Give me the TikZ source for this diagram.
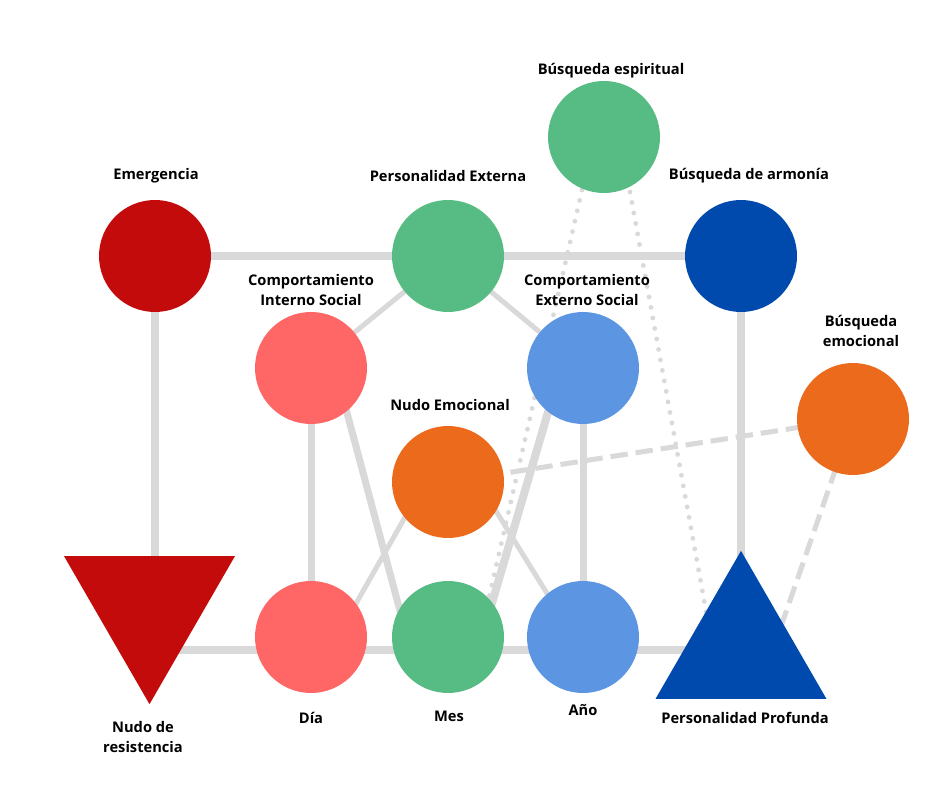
\documentclass[tikz,border=0pt]{standalone}
\usepackage{fontspec}
\setmainfont{Open Sans}
\usetikzlibrary{shapes.geometric,backgrounds}
\definecolor{lg}{HTML}{D9D9D9}
\definecolor{cred}{HTML}{C40B0B}
\definecolor{csal}{HTML}{FF6666}
\definecolor{cgreen}{HTML}{57BB84}
\definecolor{cblue}{HTML}{5C96E3}
\definecolor{cdblue}{HTML}{004AAD}
\definecolor{corange}{HTML}{EB6A1B}
\begin{document}
\begin{tikzpicture}[x=0.75pt,y=-0.75pt,
  circ/.style={circle,minimum size=84pt,inner sep=0pt,outer sep=0pt,draw=none},
  tri/.style={regular polygon,regular polygon sides=3,minimum size=148pt,inner sep=0pt,outer sep=0pt,draw=none},
  lbl/.style={font=\bfseries\fontsize{11}{15}\selectfont,align=center,text=black,inner sep=0pt},
  thick edge/.style={draw=lg,line width=6pt},
  mid edge/.style={draw=lg,line width=5.25pt},
  thin edge/.style={draw=lg,line width=3.75pt},
  dot edge/.style={draw=lg,line width=3.6pt,line cap=round,dash pattern=on 0pt off 8pt},
  dash edge/.style={draw=lg,line width=3.75pt,dash pattern=on 13pt off 6pt}]
\useasboundingbox (0,0) rectangle (940,788);
% nodes
\node[circ,fill=cred] (em) at (155,256) {};
\node[circ,fill=cgreen] (pe) at (448,256) {};
\node[circ,fill=cdblue] (ba) at (741,256) {};
\node[circ,fill=cgreen] (bs) at (604,137) {};
\node[circ,fill=csal] (cis) at (311,368) {};
\node[circ,fill=cblue] (ces) at (583,368) {};
\node[circ,fill=corange] (be) at (853,419) {};
\node[circ,fill=corange] (ne) at (448,482) {};
\node[circ,fill=csal] (dia) at (311,637) {};
\node[circ,fill=cgreen] (mes) at (448,637) {};
\node[circ,fill=cblue] (ano) at (583,637) {};
\node[tri,fill=cred,shape border rotate=180] (nr) at (149.5,605.5) {};
\node[tri,fill=cdblue] (pp) at (741,649.5) {};
% labels
\node[lbl] (l-em) at (156,176) {Emergencia};
\node[lbl] (l-pe) at (448,176) {Personalidad Externa};
\node[lbl] (l-ba) at (749,176) {Búsqueda de armonía};
\node[lbl] (l-bs) at (611,71) {Búsqueda espiritual};
\node[lbl] (l-cis) at (311,290) {Comportamiento\\Interno Social};
\node[lbl] (l-ces) at (587,290) {Comportamiento\\Externo Social};
\node[lbl] (l-be) at (861,331) {Búsqueda\\emocional};
\node[lbl] (l-ne) at (450,405) {Nudo Emocional};
\node[lbl] (l-nr) at (143,737) {Nudo de\\resistencia};
\node[lbl] (l-dia) at (311,718) {Día};
\node[lbl] (l-mes) at (449,716) {Mes};
\node[lbl] (l-ano) at (583,710) {Año};
\node[lbl] (l-pp) at (745,718) {Personalidad Profunda};
% connectors
\begin{scope}[on background layer]
\fill[white] (0,0) rectangle (940,788);
\draw[thick edge] (em.center) -- (ba.center);
\draw[thick edge] (em.center) -- (em.center |- nr.center);
\draw[thick edge] (nr.center |- pp.center) -- (pp.center);
\draw[thick edge] (ba.center) -- (pp.center);
\draw[mid edge] (cis.center) -- (dia.center);
\draw[mid edge] (ces.center) -- (ano.center);
\draw[thin edge] (pe.center) -- (cis.center);
\draw[thin edge] (pe.center) -- (ces.center);
\draw[mid edge] ([shift={(24,0)}]cis.center) -- ([shift={(-41,0)}]mes.center);
\draw[thick edge] ([shift={(-22,0)}]ces.center) -- ([shift={(34,0)}]mes.center);
\draw[thin edge] ([shift={(-23,0)}]ne.center) -- ([shift={(26,0)}]dia.center);
\draw[thin edge] ([shift={(30,0)}]ne.center) -- ([shift={(-9,0)}]ano.center);
\draw[dot edge] ([shift={(-22,53)}]bs.center) -- ([shift={(32,0)}]mes.center);
\draw[dot edge] ([shift={(26,55)}]bs.center) -- ([shift={(-28,0)}]pp.center);
\draw[dash edge] (be.center) -- (ne.center);
\draw[dash edge] (be.center) -- ([shift={(32,0)}]pp.center);
\end{scope}
\end{tikzpicture}
\end{document}
